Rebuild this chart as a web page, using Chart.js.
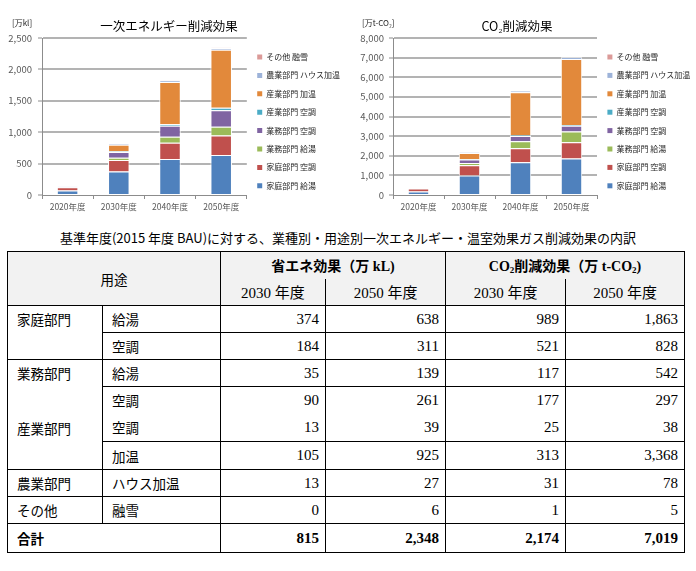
<!DOCTYPE html>
<html>
<head>
<meta charset="utf-8">
<script src="https://cdn.jsdelivr.net/npm/chart.js@4.4.1/dist/chart.umd.min.js"></script>
<style>
body { margin:0; background:#fff; }
#page { position:relative; width:696px; height:571px; overflow:hidden; font-family:'Noto Sans CJK JP', sans-serif; color:#000; }
#c1 { position:absolute; left:0; top:0; }
#c2 { position:absolute; left:350px; top:0; }
#caption { position:absolute; left:0; top:229px; width:696px; text-align:center; font-size:13px; line-height:18px; }
#tbl { position:absolute; left:7px; top:251px; width:677px; border-collapse:collapse; table-layout:fixed; border:1px solid #000; font-size:13.5px; }
#tbl td { padding:0; white-space:nowrap; overflow:hidden; vertical-align:middle; }
#tbl .hd { background:#f2f2f2; text-align:center; }
#tbl .yr { font-family:'Liberation Serif','Noto Sans CJK JP',serif; font-size:15px; }
#tbl .bold { font-weight:bold; }
#tbl .lab { padding-left:9px; }
#tbl .num { text-align:right; padding-right:6px; font-family:'Liberation Serif',serif; font-size:15px; }
#tbl sub { font-size:9px; vertical-align:-2px; line-height:0; }
</style>
</head>
<body>
<div id="page">
<canvas id="c1" width="350" height="228"></canvas>
<canvas id="c2" width="346" height="228"></canvas>
<div id="caption">基準年度(2015 年度 BAU)に対する、業種別・用途別一次エネルギー・温室効果ガス削減効果の内訳</div>
<table id="tbl">
<colgroup><col style="width:95px"><col style="width:118px"><col style="width:105px"><col style="width:120px"><col style="width:120px"><col style="width:119px"></colgroup>
<tbody id="tb"></tbody>
</table>
</div>
<script>

var categories = ['2020年度', '2030年度', '2040年度', '2050年度'];
var seriesNames = ['家庭部門 給湯', '家庭部門 空調', '業務部門 給湯', '業務部門 空調',
                   '産業部門 空調', '産業部門 加温', '農業部門 ハウス加温', 'その他 融雪'];

// 一次エネルギー削減効果 [万kL]
var eneKateiKyuto  = [72, 374, 572, 638];
var eneKateiKucho  = [50, 184, 260, 311];
var eneGyomuKyuto  = [3, 35, 95, 139];
var eneGyomuKucho  = [6, 90, 175, 261];
var eneSangyoKucho = [2, 13, 26, 39];
var eneSangyoKaon  = [0, 105, 673, 925];
var eneNogyo       = [3, 13, 20, 27];
var eneSonota      = [0, 0, 4, 6];

// CO2削減効果 [万t-CO2]
var co2KateiKyuto  = [180, 989, 1675, 1863];
var co2KateiKucho  = [150, 521, 710, 828];
var co2GyomuKyuto  = [10, 117, 355, 542];
var co2GyomuKucho  = [12, 177, 270, 297];
var co2SangyoKucho = [3, 25, 32, 38];
var co2SangyoKaon  = [0, 313, 2200, 3368];
var co2Nogyo       = [8, 31, 55, 78];
var co2Sonota      = [0, 1, 3, 5];

var eneTicks = [0, 500, 1000, 1500, 2000, 2500];
var co2Ticks = [0, 1000, 2000, 3000, 4000, 5000, 6000, 7000, 8000];

// table
var sectorLabels = ['家庭部門', '', '業務部門', '', '産業部門', '', '農業部門', 'その他'];
var useLabels = ['給湯', '空調', '給湯', '空調', '空調', '加温', 'ハウス加温', '融雪'];
var tableYears = ['2030 年度', '2050 年度'];
var tableCols = [1, 3];
var eneTotal = [815, 2348];
var co2Total = [2174, 7019];

var eneSeries = [eneKateiKyuto, eneKateiKucho, eneGyomuKyuto, eneGyomuKucho, eneSangyoKucho, eneSangyoKaon, eneNogyo, eneSonota];
var co2Series = [co2KateiKyuto, co2KateiKucho, co2GyomuKyuto, co2GyomuKucho, co2SangyoKucho, co2SangyoKaon, co2Nogyo, co2Sonota];

var colors = ['#4F81BD', '#C0504D', '#9BBB59', '#8064A2', '#4BACC6', '#E2893B', '#9DB3D9', '#DB9A98'];

Chart.defaults.font.family = "'Noto Sans CJK JP', sans-serif";

// title + unit label drawn above the plot
var headText = {
  id: 'headText',
  afterDraw: function(chart, args, o) {
    var ctx = chart.ctx;
    ctx.save();
    ctx.fillStyle = '#000';
    ctx.textBaseline = 'middle';
    ctx.textAlign = 'center';
    ctx.font = "12.5px 'Noto Sans CJK JP'";
    ctx.fillText(o.title, o.titleX, 26);
    ctx.textAlign = 'left';
    ctx.font = "8px 'Noto Sans CJK JP'";
    ctx.fillStyle = '#222';
    ctx.fillText(o.unit, o.unitX, 23);
    ctx.restore();
  }
};

function drawChart(id, series, ticks, o) {
  var datasets = series.map(function(vals, i) {
    return {
      label: seriesNames[i], data: vals, backgroundColor: colors[i],
      borderColor: '#ffffff', borderWidth: 1,
      barPercentage: 0.42, categoryPercentage: 1
    };
  });
  return new Chart(document.getElementById(id), {
    type: 'bar',
    data: { labels: categories, datasets: datasets },
    plugins: [headText],
    options: {
      responsive: false,
      animation: false,
      layout: { padding: { top: 38, bottom: 13, left: 0, right: 0 } },
      plugins: {
        tooltip: { enabled: false },
        headText: { title: o.title, unit: o.unit, titleX: o.titleX, unitX: o.unitX },
        legend: {
          position: 'right',
          align: 'start',
          reverse: true,
          maxWidth: o.legendWidth,
          // empty title only used as a small top offset
          title: { display: true, text: '', padding: 0, font: { size: 4, lineHeight: 1.15 } },
          labels: {
            boxWidth: 5, boxHeight: 5, padding: 10.4,
            color: '#262626', font: { size: 8 },
            generateLabels: function(chart) {
              var items = Chart.defaults.plugins.legend.labels.generateLabels(chart);
              items.forEach(function(it) { it.lineWidth = 0; it.strokeStyle = 'rgba(0,0,0,0)'; });
              return items;
            }
          }
        }
      },
      scales: {
        x: {
          stacked: true,
          grid: { display: true, drawOnChartArea: false, drawTicks: true, tickLength: 4, color: '#8c8c8c', offset: true },
          border: { color: '#8c8c8c' },
          ticks: { color: '#595959', font: { size: 8.5 }, padding: 3, maxRotation: 0 },
          afterFit: function(s) { s.height = 20; }
        },
        y: {
          stacked: true,
          min: ticks[0],
          max: ticks[ticks.length - 1],
          afterBuildTicks: function(s) { s.ticks = ticks.map(function(v) { return { value: v }; }); },
          ticks: {
            color: '#595959', font: { size: 9.5 }, padding: o.tickPad,
            callback: function(v) { return v.toLocaleString('en-US'); }
          },
          grid: {
            color: function(c) { return c.tick && c.tick.value === 0 ? 'rgba(0,0,0,0)' : '#b3b3b3'; },
            lineWidth: 2, tickLength: 4, tickColor: '#8c8c8c', tickWidth: 1
          },
          border: { color: '#8c8c8c' },
          afterFit: function(s) { s.width = o.yWidth; }
        }
      }
    }
  });
}

drawChart('c1', eneSeries, eneTicks, {
  title: '一次エネルギー削減効果', unit: '[万kl]', titleX: 169, unitX: 12,
  legendWidth: 105, yWidth: 42, tickPad: 6
});
drawChart('c2', co2Series, co2Ticks, {
  title: 'CO₂削減効果', unit: '[万t-CO₂]', titleX: 167, unitX: 12,
  legendWidth: 99, yWidth: 43, tickPad: 5
});

// table
function fmt(v) { return v.toLocaleString('en-US'); }
var B = '1px solid #000';
var rowLines = ['full', 'part', 'full', 'part', 'none', 'part', 'full', 'full'];
var rowH = [27, 27, 27, 27, 28, 28, 27, 27];

var html = '';
html += '<tr style="height:27px"><td colspan="2" rowspan="2" class="hd" style="border-right:' + B + '">用途</td>' +
  '<td colspan="2" class="hd bold yr" style="font-size:14px">省エネ効果（万 kL)</td>' +
  '<td colspan="2" class="hd bold yr" style="font-size:14px;border-left:' + B + '">CO<sub>2</sub>削減効果（万 t-CO<sub>2</sub>)</td></tr>';
html += '<tr style="height:27px">';
for (var k = 0; k < 4; k++) {
  html += '<td class="hd yr" style="border-left:' + B + '">' + tableYears[k % 2] + '</td>';
}
html += '</tr>';

for (var i = 0; i < useLabels.length; i++) {
  var t1 = rowLines[i] === 'full' ? B : 'none';
  var t2 = rowLines[i] === 'none' ? 'none' : B;
  html += '<tr style="height:' + rowH[i] + 'px">';
  html += '<td class="lab" style="border-top:' + t1 + ';border-right:' + B + '">' + sectorLabels[i] + '</td>';
  html += '<td class="lab" style="border-top:' + t2 + '">' + useLabels[i] + '</td>';
  var cells = [eneSeries[i][tableCols[0]], eneSeries[i][tableCols[1]], co2Series[i][tableCols[0]], co2Series[i][tableCols[1]]];
  cells.forEach(function(v) {
    html += '<td class="num" style="border-top:' + t2 + ';border-left:' + B + '">' + fmt(v) + '</td>';
  });
  html += '</tr>';
}

html += '<tr style="height:29px"><td colspan="2" class="lab bold" style="border-top:' + B + ';border-right:' + B + '">合計</td>';
[eneTotal[0], eneTotal[1], co2Total[0], co2Total[1]].forEach(function(v) {
  html += '<td class="num bold" style="border-top:' + B + ';border-left:' + B + '">' + fmt(v) + '</td>';
});
html += '</tr>';
document.getElementById('tb').innerHTML = html;
</script>
</body>
</html>
